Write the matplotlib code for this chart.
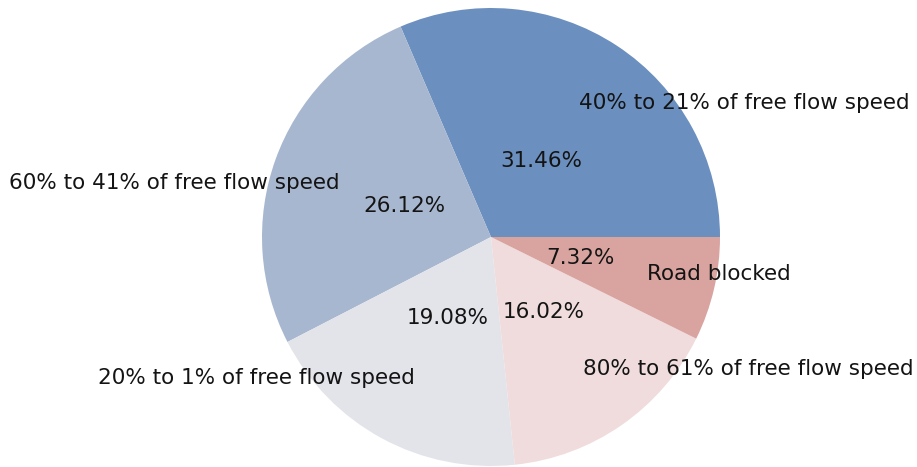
import matplotlib
matplotlib.use("Agg")
import matplotlib.pyplot as plt

labels = [
    "40% to 21% of free flow speed",
    "60% to 41% of free flow speed",
    "20% to 1% of free flow speed",
    "80% to 61% of free flow speed",
    "Road blocked",
]
shares = [31.46, 26.12, 19.08, 16.02, 7.32]
colors = ["#6b8fbf", "#a8b7d0", "#e3e4ea", "#f0dcdc", "#d9a39f"]

fig = plt.figure(figsize=(9.17, 4.67), dpi=100)
ax = fig.add_axes([262 / 917, 1 / 467, 458 / 917, 458 / 467])
ax.pie(
    shares,
    labels=labels,
    colors=colors,
    autopct="%.2f%%",
    labeldistance=0.7,
    pctdistance=0.4,
    textprops={"fontsize": 15.5, "color": "#141414"},
)
ax.set_xlim(-1, 1)
ax.set_ylim(-1, 1)
ax.set_aspect("equal")
fig.savefig("out.png", dpi=100)
